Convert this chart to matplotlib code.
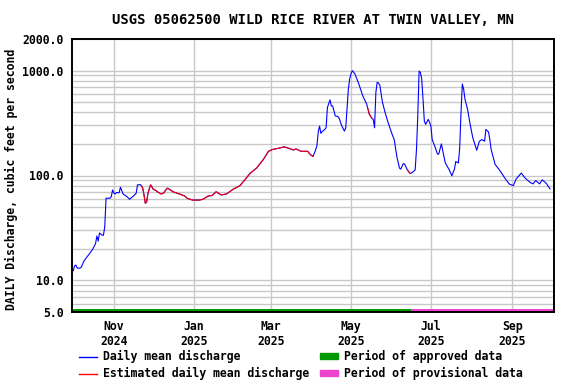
import numpy as np
import pandas as pd
import matplotlib
matplotlib.use("Agg")
import matplotlib.pyplot as plt
import matplotlib.dates as mdates
from matplotlib.lines import Line2D
from matplotlib.patches import Patch

title = "USGS 05062500 WILD RICE RIVER AT TWIN VALLEY, MN"
ylabel = "DAILY Discharge, cubic feet per second"

# daily mean discharge (cfs)
dates = [
    "2024-10-01", "2024-10-02", "2024-10-03", "2024-10-04", "2024-10-06", "2024-10-07",
    "2024-10-09", "2024-10-11", "2024-10-13", "2024-10-16", "2024-10-18", "2024-10-19",
    "2024-10-20", "2024-10-21", "2024-10-23", "2024-10-24", "2024-10-25", "2024-10-26",
    "2024-10-29", "2024-10-30", "2024-10-31", "2024-11-01", "2024-11-02", "2024-11-03",
    "2024-11-05", "2024-11-06", "2024-11-07", "2024-11-08", "2024-11-11", "2024-11-13",
    "2024-11-14", "2024-11-16", "2024-11-18", "2024-11-19", "2024-11-21", "2024-11-22",
    "2024-11-23", "2024-11-24", "2024-11-25", "2024-11-26", "2024-11-27", "2024-11-29",
    "2024-11-30", "2024-12-01", "2024-12-03", "2024-12-04", "2024-12-07", "2024-12-09",
    "2024-12-11", "2024-12-12", "2024-12-14", "2024-12-16", "2024-12-21", "2024-12-25",
    "2024-12-27", "2024-12-31", "2025-01-05", "2025-01-08", "2025-01-12", "2025-01-15",
    "2025-01-18", "2025-01-22", "2025-01-26", "2025-01-31", "2025-02-05", "2025-02-09",
    "2025-02-13", "2025-02-18", "2025-02-23", "2025-02-27", "2025-03-02", "2025-03-06",
    "2025-03-11", "2025-03-16", "2025-03-18", "2025-03-20", "2025-03-24", "2025-03-29",
    "2025-03-31", "2025-04-02", "2025-04-04", "2025-04-05", "2025-04-06", "2025-04-07",
    "2025-04-08", "2025-04-09", "2025-04-11", "2025-04-12", "2025-04-13", "2025-04-15",
    "2025-04-16", "2025-04-17", "2025-04-19", "2025-04-21", "2025-04-22", "2025-04-24",
    "2025-04-26", "2025-04-27", "2025-04-29", "2025-04-30", "2025-05-01", "2025-05-02",
    "2025-05-04", "2025-05-07", "2025-05-10", "2025-05-13", "2025-05-14", "2025-05-15",
    "2025-05-17", "2025-05-18", "2025-05-19", "2025-05-20", "2025-05-21", "2025-05-22",
    "2025-05-23", "2025-05-25", "2025-05-27", "2025-05-29", "2025-06-01", "2025-06-03",
    "2025-06-05", "2025-06-07", "2025-06-08", "2025-06-10", "2025-06-11", "2025-06-13",
    "2025-06-15", "2025-06-16", "2025-06-19", "2025-06-20", "2025-06-21", "2025-06-22",
    "2025-06-23", "2025-06-24", "2025-06-25", "2025-06-26", "2025-06-27", "2025-06-29",
    "2025-06-30", "2025-07-01", "2025-07-02", "2025-07-04", "2025-07-06", "2025-07-07",
    "2025-07-09", "2025-07-10", "2025-07-12", "2025-07-15", "2025-07-17", "2025-07-19",
    "2025-07-20", "2025-07-22", "2025-07-23", "2025-07-24", "2025-07-25", "2025-07-26",
    "2025-07-27", "2025-07-29", "2025-07-31", "2025-08-02", "2025-08-04", "2025-08-05",
    "2025-08-07", "2025-08-09", "2025-08-11", "2025-08-12", "2025-08-14", "2025-08-15",
    "2025-08-16", "2025-08-19", "2025-08-23", "2025-08-27", "2025-08-30", "2025-09-02",
    "2025-09-04", "2025-09-08", "2025-09-11", "2025-09-15", "2025-09-17", "2025-09-19",
    "2025-09-22", "2025-09-24", "2025-09-27", "2025-09-30",
]
flow = [
    12.4, 13.8, 14.0, 13.1, 13.1, 13.3,
    15.2, 16.5, 17.7, 20.0, 22.5, 26.5,
    23.7, 28.3, 27.0, 26.9, 32.4, 60.7,
    60.7, 63.0, 72.8, 68.0, 66.7, 68.7,
    68.5, 77.3, 72.0, 66.7, 62.9, 59.3,
    61.0, 63.8, 67.7, 81.4, 82.0, 80.0,
    75.7, 65.0, 54.3, 56.0, 68.0, 81.4,
    78.0, 74.0, 72.0, 70.2, 66.7, 68.0,
    74.0, 75.7, 73.0, 70.0, 66.7, 63.8,
    60.6, 58.3, 58.3, 59.3, 63.8, 64.5,
    70.0, 65.2, 66.7, 74.0, 79.6, 90.9,
    105, 118, 141.6, 170, 177, 181,
    187.5, 179.3, 175, 179, 170, 170,
    158, 152, 175, 193, 260, 296,
    252, 262, 275, 285, 445, 526,
    460, 460, 370, 365, 350, 296,
    265, 285, 668, 831, 930, 1000,
    930, 744, 575, 478, 430, 384,
    350, 343, 285, 619, 774, 760,
    728, 500, 400, 330, 255, 220,
    152, 117.8, 115, 130, 128, 113.5,
    105, 105, 113, 177, 370, 990,
    960, 831, 534, 330, 307, 343,
    320, 296, 220, 190, 160, 160,
    200, 174, 131.6, 113.5, 99.3, 115,
    136, 131.6, 183, 398, 745, 668,
    534, 428, 307, 229, 190, 174,
    212, 220, 212, 275, 260, 220,
    177, 128, 110, 92.3, 82.7, 80.2,
    92.3, 105.5, 94.4, 85.6, 83.2, 89.5,
    83.2, 90.9, 84.5, 74.5,
]

# periods where values are estimated
est_start = ["2024-11-22", "2025-05-14", "2025-06-12"]
est_end = ["2025-04-02", "2025-05-17", "2025-06-15"]

# approval status bars along the bottom
approved = ("2024-09-30", "2025-06-16")
provisional = ("2025-06-16", "2025-10-03")

x = pd.to_datetime(dates)
q = np.array(flow, dtype=float)
est = np.zeros(len(x), dtype=bool)
for s, e in zip(est_start, est_end):
    est |= (x >= pd.Timestamp(s)) & (x <= pd.Timestamp(e))
q_est = np.where(est, q, np.nan)

plt.rcParams["font.family"] = "DejaVu Sans Mono"
plt.rcParams["font.weight"] = "bold"
plt.rcParams["axes.titleweight"] = "bold"
plt.rcParams["axes.labelweight"] = "bold"
plt.rcParams["font.size"] = 8.3

fig = plt.figure(figsize=(5.76, 3.84), dpi=100)
ax = fig.add_axes([72 / 576, 1 - 312 / 384, (554 - 72) / 576, (312 - 39) / 384])

ax.plot(x, q, color="#0000ff", lw=0.8, zorder=3)
ax.plot(x, q_est, color="#ff0000", lw=0.8, zorder=4)

ax.fill_between(pd.to_datetime(list(approved)), 5.0, 5.35, color="#009900", lw=0, zorder=2)
ax.fill_between(pd.to_datetime(list(provisional)), 5.0, 5.35, color="#ee44cc", lw=0, zorder=2)

ax.set_yscale("log")
ax.set_ylim(5, 2000)
ax.set_xlim(pd.Timestamp("2024-09-30"), pd.Timestamp("2025-10-03"))
ax.set_yticks([5, 10, 100, 1000, 2000])
ax.set_yticklabels(["5.0", "10.0", "100.0", "1000.0", "2000.0"], fontweight="bold")
ax.yaxis.set_minor_formatter(plt.NullFormatter())
ax.tick_params(axis="y", which="both", length=0, pad=6)

ax.xaxis.set_major_locator(mdates.MonthLocator(bymonth=[1, 3, 5, 7, 9, 11]))
ax.xaxis.set_major_formatter(mdates.DateFormatter("%b\n%Y"))
ax.tick_params(axis="x", length=0, pad=6)
for t in ax.get_xticklabels():
    t.set_fontweight("bold")

ax.grid(True, which="both", axis="y", color="#c8c8c8", lw=1.0)
ax.grid(True, which="major", axis="x", color="#c8c8c8", lw=1.0)
ax.set_axisbelow(True)
for sp in ax.spines.values():
    sp.set_linewidth(1.4)

ax.set_title(title, pad=11, fontweight="bold")
ax.set_ylabel(ylabel, fontweight="bold")
ax.yaxis.set_label_coords(-0.113, 0.484)

handles = [
    Line2D([], [], color="#0000ff", lw=1),
    Line2D([], [], color="#ff0000", lw=1),
    Patch(color="#009900"),
    Patch(color="#ee44cc"),
]
labels = ["Daily mean discharge", "Estimated daily mean discharge",
          "Period of approved data", "Period of provisional data"]
fig.legend(handles, labels, ncol=2, loc="upper left",
           bbox_to_anchor=(79 / 576, 1 - 350 / 384), frameon=False,
           borderpad=0, borderaxespad=0, handlelength=1.55, handleheight=0.35,
           handletextpad=0.5, columnspacing=0.96, labelspacing=0.35,
           prop={"weight": "bold"})

fig.savefig("out.png", dpi=100)
